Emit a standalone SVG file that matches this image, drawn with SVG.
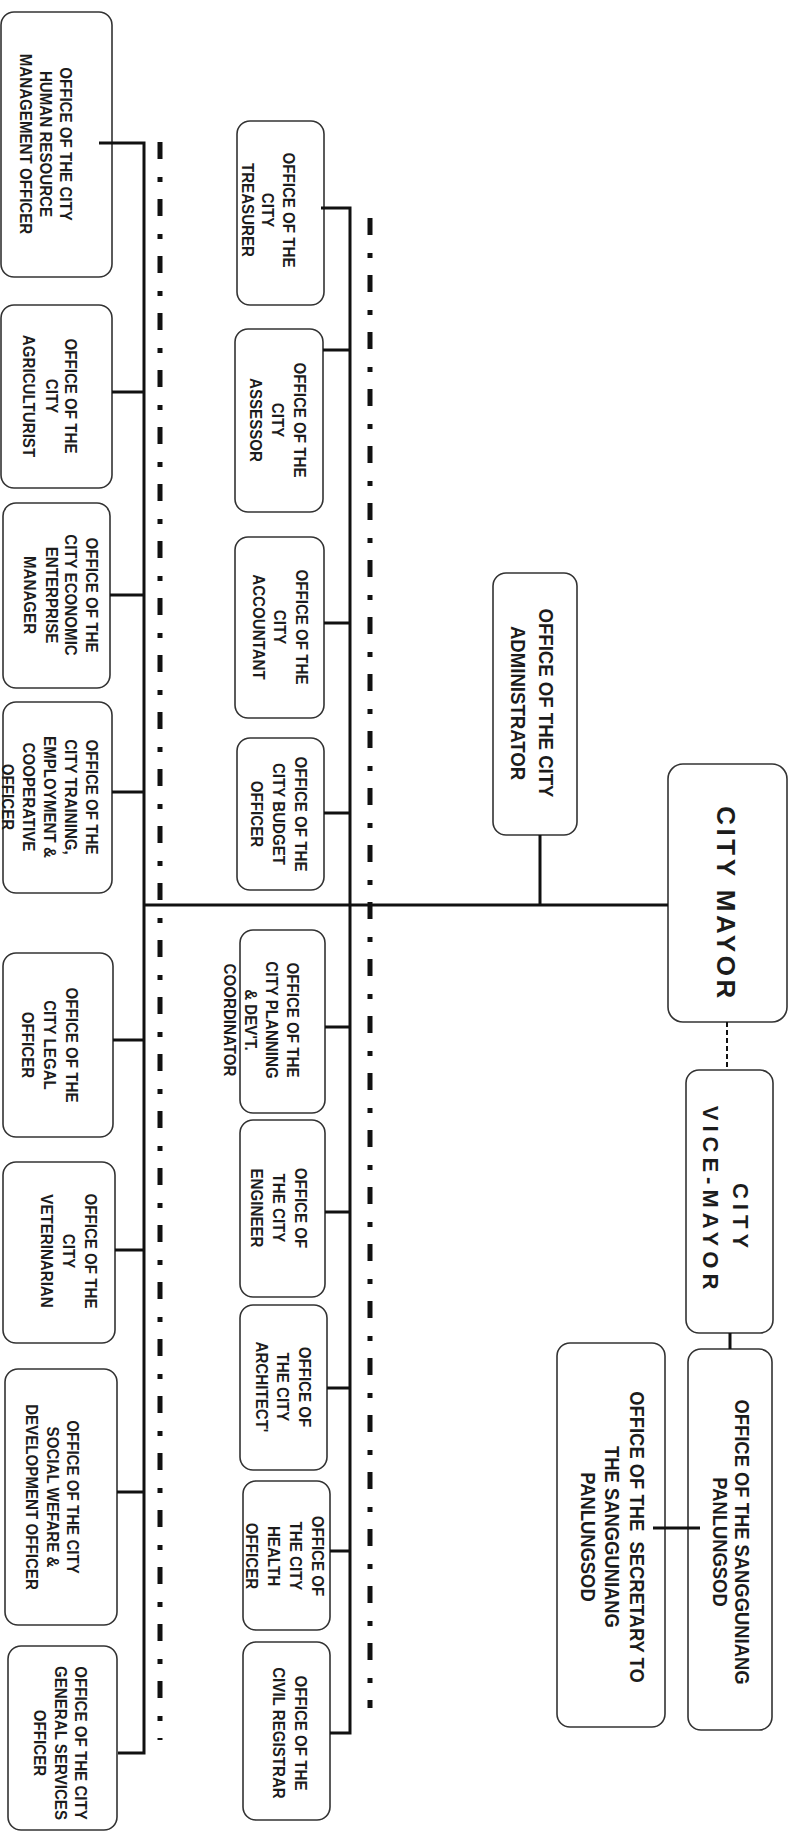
<svg xmlns="http://www.w3.org/2000/svg" width="793" height="1834" viewBox="0 0 793 1834">
<style>
.box{fill:#fff;stroke:#333;stroke-width:1.6}
.lbl{font-family:"Liberation Sans",Arial,sans-serif;font-weight:bold;font-size:17px;fill:#1c1c1c;text-anchor:middle}
.lbl20{font-size:20px}
.conn{stroke:#111;stroke-width:3;fill:none}
.dd{stroke:#111;stroke-width:5;fill:none;stroke-dasharray:17 18 5 17}
.dash{stroke:#111;stroke-width:2;fill:none;stroke-dasharray:5 3}
</style>
<rect width="793" height="1834" fill="#fff"/>

<g id="n-hr"><rect class="box" x="1" y="12" width="111" height="265" rx="13"/>
<text class="lbl" transform="translate(66,144) rotate(90) scale(0.89,1)"><tspan x="0" y="6.1">OFFICE OF THE CITY</tspan><tspan x="0" y="26.1">HUMAN RESOURCE</tspan><tspan x="0" y="46.1">MANAGEMENT OFFICER</tspan></text></g>

<g id="n-agri"><rect class="box" x="1" y="305" width="111" height="183" rx="13"/>
<text class="lbl" transform="translate(71,396) rotate(90) scale(0.89,1)"><tspan x="0" y="6.1">OFFICE OF THE</tspan><tspan x="0" y="25.1">CITY</tspan><tspan x="0" y="48.1">AGRICULTURIST</tspan></text></g>

<g id="n-econ"><rect class="box" x="3" y="503" width="107" height="185" rx="13"/>
<text class="lbl" transform="translate(92,595) rotate(90) scale(0.89,1)"><tspan x="0" y="6.1">OFFICE OF THE</tspan><tspan x="0" y="27.1">CITY ECONOMIC</tspan><tspan x="0" y="46.1">ENTERPRISE</tspan><tspan x="0" y="68.1">MANAGER</tspan></text></g>

<g id="n-train"><rect class="box" x="3" y="702" width="109" height="191" rx="13"/>
<text class="lbl" transform="translate(92,797) rotate(90) scale(0.89,1)"><tspan x="0" y="6.1">OFFICE OF THE</tspan><tspan x="0" y="27.1">CITY TRAINING,</tspan><tspan x="0" y="48.1">EMPLOYMENT &amp;</tspan><tspan x="0" y="69.1">COOPERATIVE</tspan><tspan x="0" y="90.1">OFFICER</tspan></text></g>

<g id="n-legal"><rect class="box" x="3" y="953" width="110" height="184" rx="13"/>
<text class="lbl" transform="translate(72,1045) rotate(90) scale(0.89,1)"><tspan x="0" y="6.1">OFFICE OF THE</tspan><tspan x="0" y="28.1">CITY LEGAL</tspan><tspan x="0" y="50.1">OFFICER</tspan></text></g>

<g id="n-vet"><rect class="box" x="3" y="1162" width="112" height="181" rx="13"/>
<text class="lbl" transform="translate(91,1251) rotate(90) scale(0.89,1)"><tspan x="0" y="6.1">OFFICE OF THE</tspan><tspan x="0" y="28.1">CITY</tspan><tspan x="0" y="50.1">VETERINARIAN</tspan></text></g>

<g id="n-social"><rect class="box" x="5" y="1369" width="112" height="256" rx="13"/>
<text class="lbl" transform="translate(73,1497) rotate(90) scale(0.89,1)"><tspan x="0" y="6.1">OFFICE OF THE CITY</tspan><tspan x="0" y="26.1">SOCIAL WEFARE &amp;</tspan><tspan x="0" y="47.1">DEVELOPMENT OFFICER</tspan></text></g>

<g id="n-gs"><rect class="box" x="8" y="1646" width="109" height="184" rx="13"/>
<text class="lbl" transform="translate(81,1743) rotate(90) scale(0.89,1)"><tspan x="0" y="6.1">OFFICE OF THE CITY</tspan><tspan x="0" y="26.1">GENERAL SERVICES</tspan><tspan x="0" y="47.1">OFFICER</tspan></text></g>

<g id="n-treasurer"><rect class="box" x="237" y="121" width="87" height="184" rx="13"/>
<text class="lbl" transform="translate(289,210) rotate(90) scale(0.89,1)"><tspan x="0" y="6.1">OFFICE OF THE</tspan><tspan x="0" y="27.1">CITY</tspan><tspan x="0" y="47.1">TREASURER</tspan></text></g>

<g id="n-assessor"><rect class="box" x="235" y="329" width="88" height="183" rx="13"/>
<text class="lbl" transform="translate(300,420) rotate(90) scale(0.89,1)"><tspan x="0" y="6.1">OFFICE OF THE</tspan><tspan x="0" y="28.1">CITY</tspan><tspan x="0" y="50.1">ASSESSOR</tspan></text></g>

<g id="n-accountant"><rect class="box" x="235" y="537" width="89" height="181" rx="13"/>
<text class="lbl" transform="translate(302,627) rotate(90) scale(0.89,1)"><tspan x="0" y="6.1">OFFICE OF THE</tspan><tspan x="0" y="28.1">CITY</tspan><tspan x="0" y="49.1">ACCOUNTANT</tspan></text></g>

<g id="n-budget"><rect class="box" x="237" y="738" width="87" height="152" rx="13"/>
<text class="lbl" transform="translate(301,814) rotate(90) scale(0.89,1)"><tspan x="0" y="6.1">OFFICE OF THE</tspan><tspan x="0" y="28.1">CITY BUDGET</tspan><tspan x="0" y="50.1">OFFICER</tspan></text></g>

<g id="n-planning"><rect class="box" x="240" y="930" width="85" height="183" rx="13"/>
<text class="lbl" transform="translate(293,1020) rotate(90) scale(0.89,1)"><tspan x="0" y="6.1">OFFICE OF THE</tspan><tspan x="0" y="27.1">CITY PLANNING</tspan><tspan x="0" y="48.1">&amp; DEV'T.</tspan><tspan x="0" y="69.1">COORDINATOR</tspan></text></g>

<g id="n-engineer"><rect class="box" x="240" y="1120" width="85" height="177" rx="13"/>
<text class="lbl" transform="translate(301,1208) rotate(90) scale(0.89,1)"><tspan x="0" y="6.1">OFFICE OF</tspan><tspan x="0" y="28.1">THE CITY</tspan><tspan x="0" y="50.1">ENGINEER</tspan></text></g>

<g id="n-architect"><rect class="box" x="240" y="1305" width="87" height="165" rx="13"/>
<text class="lbl" transform="translate(305,1387) rotate(90) scale(0.89,1)"><tspan x="0" y="6.1">OFFICE OF</tspan><tspan x="0" y="28.1">THE CITY</tspan><tspan x="0" y="49.1">ARCHITECT'</tspan></text></g>

<g id="n-health"><rect class="box" x="243" y="1481" width="87" height="149" rx="13"/>
<text class="lbl" transform="translate(318,1556) rotate(90) scale(0.89,1)"><tspan x="0" y="6.1">OFFICE OF</tspan><tspan x="0" y="28.1">THE CITY</tspan><tspan x="0" y="50.1">HEALTH</tspan><tspan x="0" y="72.1">OFFICER</tspan></text></g>

<g id="n-registrar"><rect class="box" x="243" y="1642" width="87" height="178" rx="13"/>
<text class="lbl" transform="translate(301,1733) rotate(90) scale(0.89,1)"><tspan x="0" y="6.1">OFFICE OF THE</tspan><tspan x="0" y="28.1">CIVIL REGISTRAR</tspan></text></g>

<g id="n-admin"><rect class="box" x="493" y="573" width="84" height="262" rx="13"/>
<text class="lbl lbl20" transform="translate(546,703) rotate(90) scale(0.93,1)"><tspan x="0" y="7.2">OFFICE OF THE CITY</tspan><tspan x="0" y="35.2">ADMINISTRATOR</tspan></text></g>

<g id="n-mayor"><rect class="box" x="668" y="764" width="119" height="258" rx="15"/>
<text class="lbl" style="font-size:26px;letter-spacing:3.5px" transform="translate(726,904) rotate(90)"><tspan x="0" y="9.4">CITY MAYOR</tspan></text></g>

<g id="n-vicemayor"><rect class="box" x="686" y="1070" width="87" height="263" rx="13"/>
<text class="lbl" style="font-size:22px;letter-spacing:5px" transform="translate(741,1218) rotate(90)"><tspan x="0" y="7.9">CITY</tspan></text>
<text class="lbl" style="font-size:22px;letter-spacing:5px" transform="translate(711,1200) rotate(90)"><tspan x="0" y="7.9">VICE-MAYOR</tspan></text></g>

<g id="n-sanggunian"><rect class="box" x="688" y="1349" width="84" height="381" rx="13"/>
<text class="lbl lbl20" transform="translate(742,1542) rotate(90) scale(0.92,1)"><tspan x="0" y="7.2">OFFICE OF THE SANGGUNIANG</tspan><tspan x="0" y="29.2">PANLUNGSOD</tspan></text></g>

<g id="n-secretary"><rect class="box" x="557" y="1343" width="108" height="384" rx="13"/>
<text class="lbl lbl20" style="white-space:pre" transform="translate(637,1537) rotate(90) scale(0.92,1)"><tspan x="0" y="7.2">OFFICE OF THE  SECRETARY TO</tspan><tspan x="0" y="32.2">THE SANGGUNIANG</tspan><tspan x="0" y="56.2">PANLUNGSOD</tspan></text></g>

<g id="connectors">
<path class="dd" d="M160 142 V1740"/>
<path class="dd" d="M370 218 V1708"/>
<path class="conn" d="M144 905 H668"/>
<path class="conn" d="M540 835 V905"/>
<path class="dash" d="M727 1022 V1070"/>
<path class="conn" d="M730 1333 V1349"/>
<path class="conn" d="M653 1528 H700"/>
<path class="conn" d="M99 143 H144 V1753 H118"/>
<path class="conn" d="M112 392 H144 M110 595 H144 M112 792 H144 M113 1040 H144 M115 1250 H144 M117 1492 H144"/>
<path class="conn" d="M321 208 H350 V1733 H330"/>
<path class="conn" d="M323 350 H350 M324 623 H350 M324 813 H350 M325 1027 H350 M325 1212 H350 M327 1388 H350 M330 1551 H350"/>
</g>
</svg>
